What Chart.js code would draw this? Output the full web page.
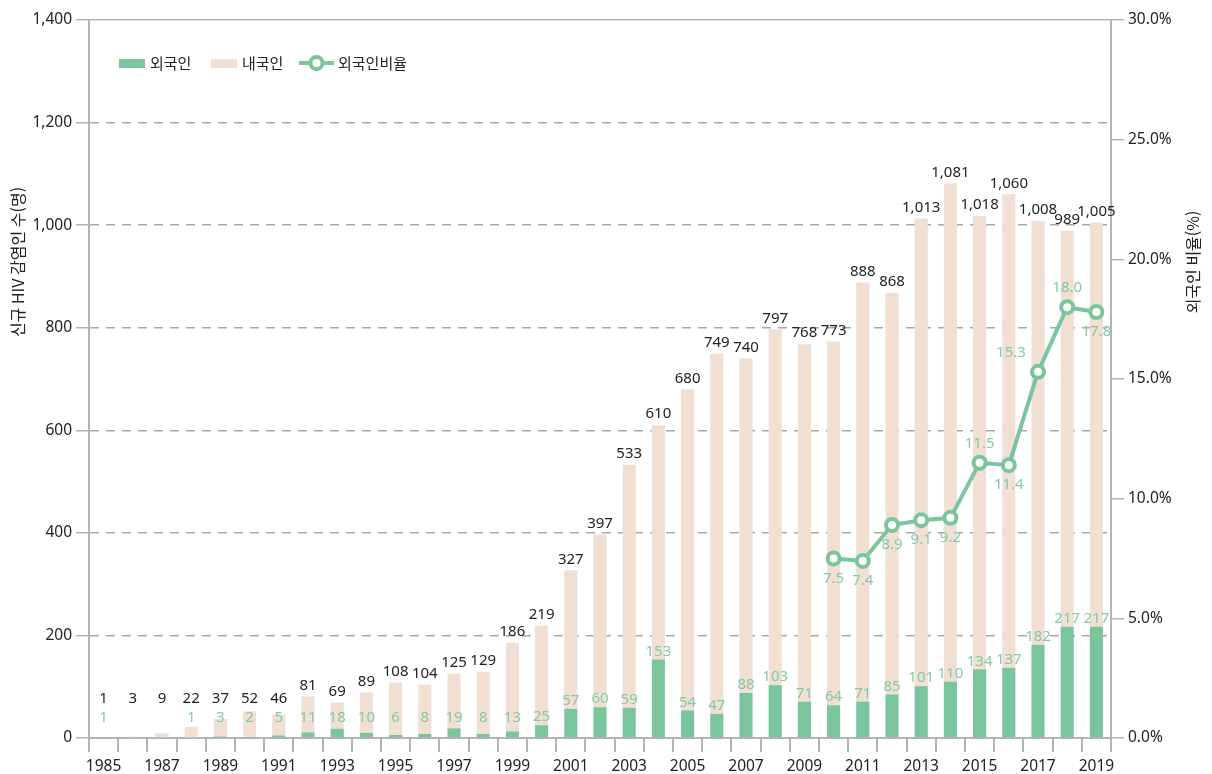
<!DOCTYPE html>
<html lang="ko">
<head>
<meta charset="utf-8">
<title>신규 HIV 감염인 수</title>
<script src="https://cdn.jsdelivr.net/npm/chart.js@4.4.1/dist/chart.umd.min.js"></script>
<style>
    html, body { margin: 0; padding: 0; background: #fff; }
    #wrap { position: relative; width: 1212px; height: 774px; }
</style>
</head>
<body>
<div id="wrap"><canvas id="hivChart"></canvas></div>
<script>
// Data
const years = ['1985', '1986', '1987', '1988', '1989', '1990', '1991', '1992', '1993', '1994',
    '1995', '1996', '1997', '1998', '1999', '2000', '2001', '2002', '2003', '2004',
    '2005', '2006', '2007', '2008', '2009', '2010', '2011', '2012', '2013', '2014',
    '2015', '2016', '2017', '2018', '2019'];
const totals = [1, 3, 9, 22, 37, 52, 46, 81, 69, 89,
    108, 104, 125, 129, 186, 219, 327, 397, 533, 610,
    680, 749, 740, 797, 768, 773, 888, 868, 1013, 1081,
    1018, 1060, 1008, 989, 1005];
const foreigners = [1, 0, 0, 1, 3, 2, 5, 11, 18, 10,
    6, 8, 19, 8, 13, 25, 57, 60, 59, 153,
    54, 47, 88, 103, 71, 64, 71, 85, 101, 110,
    134, 137, 182, 217, 217];
const natives = [0, 3, 9, 21, 34, 50, 41, 70, 51, 79,
    102, 96, 106, 121, 173, 194, 270, 337, 474, 457,
    626, 702, 652, 694, 697, 709, 817, 783, 912, 971,
    884, 923, 826, 772, 788];
const foreignRatio = [null, null, null, null, null, null, null, null, null, null,
    null, null, null, null, null, null, null, null, null, null,
    null, null, null, null, null, 7.5, 7.4, 8.9, 9.1, 9.2,
    11.5, 11.4, 15.3, 18.0, 17.8];
const leftTicks = [0, 200, 400, 600, 800, 1000, 1200, 1400];
const rightTicks = [0, 5, 10, 15, 20, 25, 30];

const GREEN = '#7bc59e';
const GREEN_TEXT = '#84cba4';
const BEIGE = '#f1dfd3';
const AXIS = '#b4b4b4';
const GRID = '#a8a8a8';
const TEXT = '#222';
const FONT = "'Noto Sans CJK KR', 'Noto Sans', sans-serif";
const NUM_FONT = "'Noto Sans', 'Noto Sans CJK KR', sans-serif";

function fmt(n) {
    return n.toLocaleString('en-US');
}

// value labels, legend and axis titles drawn on the canvas
const labelPlugin = {
    id: 'labelPlugin',
    afterDatasetsDraw(chart) {
        const ctx = chart.ctx;
        const gMeta = chart.getDatasetMeta(0);
        const bMeta = chart.getDatasetMeta(1);
        const lMeta = chart.getDatasetMeta(2);
        const yScale = chart.scales.y;
        ctx.save();
        ctx.font = '15px ' + NUM_FONT;
        ctx.textAlign = 'center';
        ctx.textBaseline = 'middle';
        years.forEach((yr, i) => {
            const x = gMeta.data[i].x;
            const gTop = yScale.getPixelForValue(foreigners[i]);
            const gLabelY = Math.min(gTop - 8, 718);
            if (foreigners[i] > 0) {
                ctx.fillStyle = GREEN_TEXT;
                ctx.fillText(fmt(foreigners[i]), x, gLabelY);
            }
            const tTop = bMeta.data[i].y;
            const tLabelY = Math.min(tTop - 11, 699);
            ctx.fillStyle = TEXT;
            ctx.fillText(fmt(totals[i]), x, tLabelY);
        });
        // ratio labels
        ctx.fillStyle = GREEN_TEXT;
        foreignRatio.forEach((v, i) => {
            if (v === null) return;
            const p = lMeta.data[i];
            let dx = 0, dy = 20;
            if (years[i] === '2015' || years[i] === '2018') dy = -19;
            if (years[i] === '2017') { dx = -27; dy = -19; }
            ctx.fillText(v.toFixed(1), p.x + dx, p.y + dy);
        });
        ctx.restore();
    },
    afterDraw(chart) {
        const ctx = chart.ctx;
        ctx.save();
        // legend
        ctx.font = '15px ' + FONT;
        ctx.textBaseline = 'middle';
        ctx.textAlign = 'left';
        const ly = 63;
        ctx.fillStyle = GREEN;
        ctx.fillRect(119, 59, 26, 9);
        ctx.fillStyle = TEXT;
        ctx.fillText('외국인', 150, ly);
        ctx.fillStyle = BEIGE;
        ctx.fillRect(211, 59, 26, 9);
        ctx.fillStyle = TEXT;
        ctx.fillText('내국인', 242, ly);
        ctx.strokeStyle = GREEN;
        ctx.lineWidth = 4;
        ctx.beginPath();
        ctx.moveTo(299, ly);
        ctx.lineTo(334, ly);
        ctx.stroke();
        ctx.beginPath();
        ctx.arc(316.5, ly, 6, 0, Math.PI * 2);
        ctx.fillStyle = '#fff';
        ctx.fill();
        ctx.stroke();
        ctx.fillStyle = TEXT;
        ctx.fillText('외국인비율', 338, ly);

        // axis titles
        ctx.font = '16px ' + FONT;
        ctx.textAlign = 'center';
        ctx.fillStyle = TEXT;
        ctx.translate(18, 262);
        ctx.rotate(-Math.PI / 2);
        ctx.fillText('신규 HIV 감염인 수(명)', 0, 0);
        ctx.setTransform(1, 0, 0, 1, 0, 0);
        ctx.translate(1193, 262);
        ctx.rotate(-Math.PI / 2);
        ctx.fillText('외국인 비율(%)', 0, 0);
        ctx.restore();
    }
};

const tickFont = { family: NUM_FONT, size: 15.5 };

new Chart(document.getElementById('hivChart'), {
    data: {
        labels: years,
        datasets: [{
            type: 'bar',
            label: '외국인',
            data: foreigners,
            backgroundColor: GREEN,
            stack: 'people',
            yAxisID: 'y',
            order: 1,
            barPercentage: 0.45,
            categoryPercentage: 1
        }, {
            type: 'bar',
            label: '내국인',
            data: natives,
            backgroundColor: BEIGE,
            stack: 'people',
            yAxisID: 'y',
            order: 1,
            barPercentage: 0.45,
            categoryPercentage: 1
        }, {
            type: 'line',
            label: '외국인비율',
            data: foreignRatio,
            yAxisID: 'y1',
            borderColor: GREEN,
            borderWidth: 4,
            pointRadius: 6,
            pointBorderWidth: 4,
            pointBackgroundColor: '#fff',
            pointBorderColor: GREEN,
            tension: 0,
            order: 0
        }]
    },
    options: {
        responsive: true,
        maintainAspectRatio: false,
        animation: false,
        layout: {
            padding: { top: 20, left: 0, right: 0, bottom: 0 }
        },
        plugins: {
            legend: { display: false },
            tooltip: { enabled: false }
        },
        scales: {
            x: {
                stacked: true,
                offset: true,
                afterFit: scale => { scale.height = 36; },
                grid: {
                    offset: true,
                    drawOnChartArea: false,
                    tickLength: 14,
                    color: AXIS,
                    lineWidth: 2
                },
                border: { display: true, color: AXIS, width: 2 },
                ticks: {
                    autoSkip: false,
                    maxRotation: 0,
                    padding: 5,
                    color: TEXT,
                    font: tickFont,
                    callback: (v, i) => (i % 2 === 0 ? years[i] : '')
                }
            },
            y: {
                stacked: true,
                position: 'left',
                min: 0,
                max: 1400,
                afterFit: scale => { scale.width = 89; },
                afterBuildTicks: scale => {
                    scale.ticks = leftTicks.map(v => ({ value: v }));
                },
                grid: {
                    color: ctx => (ctx.tick && (ctx.tick.value === 0 || ctx.tick.value === 1400) ? AXIS : GRID),
                    lineWidth: 1.5,
                    tickLength: 13,
                    tickColor: AXIS
                },
                border: {
                    display: true,
                    color: AXIS,
                    width: 2,
                    dash: ctx => (ctx.tick && (ctx.tick.value === 0 || ctx.tick.value === 1400) ? [] : [9, 7])
                },
                ticks: {
                    padding: 4,
                    color: TEXT,
                    font: tickFont,
                    callback: v => fmt(v)
                }
            },
            y1: {
                position: 'right',
                min: 0,
                max: 30,
                afterFit: scale => { scale.width = 101; },
                afterBuildTicks: scale => {
                    scale.ticks = rightTicks.map(v => ({ value: v }));
                },
                grid: {
                    drawOnChartArea: false,
                    tickLength: 13,
                    color: AXIS,
                    lineWidth: 1.5
                },
                border: { display: true, color: AXIS, width: 2 },
                ticks: {
                    padding: 4,
                    color: TEXT,
                    font: tickFont,
                    callback: v => v.toFixed(1) + '%'
                }
            }
        }
    },
    plugins: [labelPlugin]
});
</script>
</body>
</html>
